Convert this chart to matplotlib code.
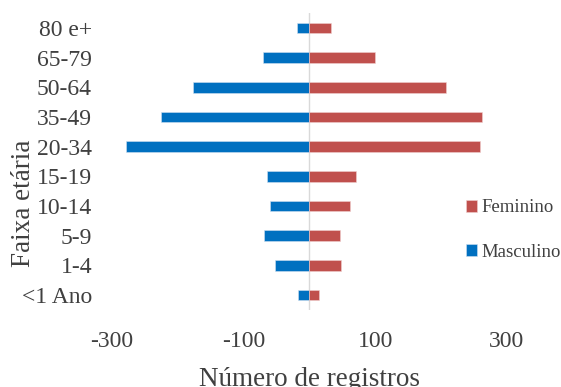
import matplotlib
matplotlib.use("Agg")
import matplotlib.pyplot as plt
import numpy as np

categories = ["<1 Ano", "1-4", "5-9", "10-14", "15-19", "20-34", "35-49", "50-64", "65-79", "80 e+"]
masculino = [-17, -52, -68, -60, -64, -278, -225, -176, -70, -18]
feminino = [15, 48, 46, 62, 71, 259, 262, 207, 100, 33]
xticks = [-300, -100, 100, 300]

plt.rcParams['font.family'] = ['Liberation Serif', 'DejaVu Serif']

fig = plt.figure(figsize=(5.61, 3.87), dpi=100)
ax = fig.add_axes([111.5/561, 1-310/387, (507-111.5)/561, (310-13)/387])

y = np.arange(len(categories))
h = 0.36
bm = ax.barh(y, masculino, height=h, color='#0070C0', edgecolor='#cfe0f0', linewidth=0.4, label='Masculino', zorder=2)
bf = ax.barh(y, feminino, height=h, color='#C0504D', edgecolor='#f0d0d0', linewidth=0.4, label='Feminino', zorder=2)

ax.set_xlim(-300, 300)
ax.set_ylim(-0.5, len(categories) - 0.5)
ax.axvline(0, color='#d9d9d9', linewidth=1.0, zorder=1)

ax.set_xticks(xticks)
ax.set_xticklabels([str(v) for v in xticks], fontsize=17, color='#404040')
ax.set_yticks(y)
ax.set_yticklabels(categories, fontsize=17, color='#404040')
ax.tick_params(axis='both', length=0)
ax.tick_params(axis='x', pad=15)
ax.tick_params(axis='y', pad=14)
for s in ax.spines.values():
    s.set_visible(False)

fig.text(309.5/561, 1-380/387, "Número de registros", fontsize=19.5, color='#404040', ha='center', va='center')
fig.text(24/561, 1-203/387, "Faixa etária", fontsize=19.5, color='#404040', ha='center', va='center', rotation=90)

fig.legend(handles=[bf, bm], labels=['Feminino', 'Masculino'], loc='center left',
           bbox_to_anchor=(466/561, 1-230/387), frameon=False, fontsize=13.5,
           borderpad=0, borderaxespad=0,
           labelspacing=1.45, handlelength=0.6, handleheight=0.6, handletextpad=0.2,
           labelcolor='#404040')

fig.savefig("out.png", dpi=100)
